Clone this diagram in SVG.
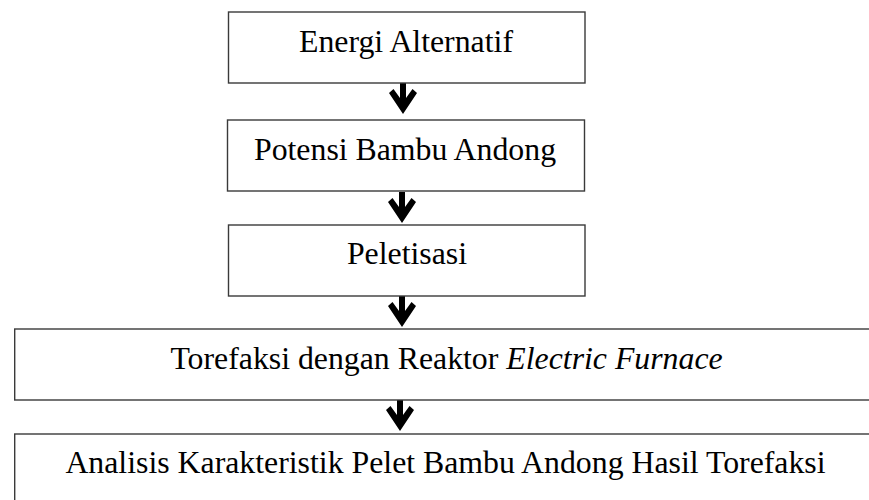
<svg xmlns="http://www.w3.org/2000/svg" width="869" height="500" viewBox="0 0 869 500">
<style>
.box{fill:#fff;stroke:#3a3a3a;stroke-width:1.4}
.t{font-family:"Liberation Serif","Times New Roman",serif;font-size:31.8px;fill:#000;text-anchor:middle}
.arr{fill:#000}
</style>
<defs>
<path id="ar" d="M-3,0 L3,0 L3,15 L9.5,6 L14,10 L0,31 L-14,10 L-9.5,6 L-3,15 Z"/>
</defs>
<rect width="869" height="500" fill="#fff"/>
<g id="connectors">
<use href="#ar" class="arr" x="403" y="83"/>
<use href="#ar" class="arr" x="402" y="192"/>
<use href="#ar" class="arr" x="402" y="296"/>
<use href="#ar" class="arr" x="400" y="400"/>
</g>
<g id="n1"><rect class="box" x="228.5" y="12" width="356.5" height="71"/><text class="t" x="406" y="52">Energi Alternatif</text></g>
<g id="n2"><rect class="box" x="227.5" y="120" width="357" height="71"/><text class="t" x="405" y="160">Potensi Bambu Andong</text></g>
<g id="n3"><rect class="box" x="228.5" y="225" width="356.5" height="71"/><text class="t" x="407" y="264">Peletisasi</text></g>
<g id="n4"><rect class="box" x="14.7" y="329" width="865" height="71"/><text class="t" x="446.5" y="369">Torefaksi dengan Reaktor <tspan font-style="italic">Electric Furnace</tspan></text></g>
<g id="n5"><rect class="box" x="14.7" y="434" width="865" height="71"/><text class="t" x="445.5" y="473">Analisis Karakteristik Pelet Bambu Andong Hasil Torefaksi</text></g>
</svg>
